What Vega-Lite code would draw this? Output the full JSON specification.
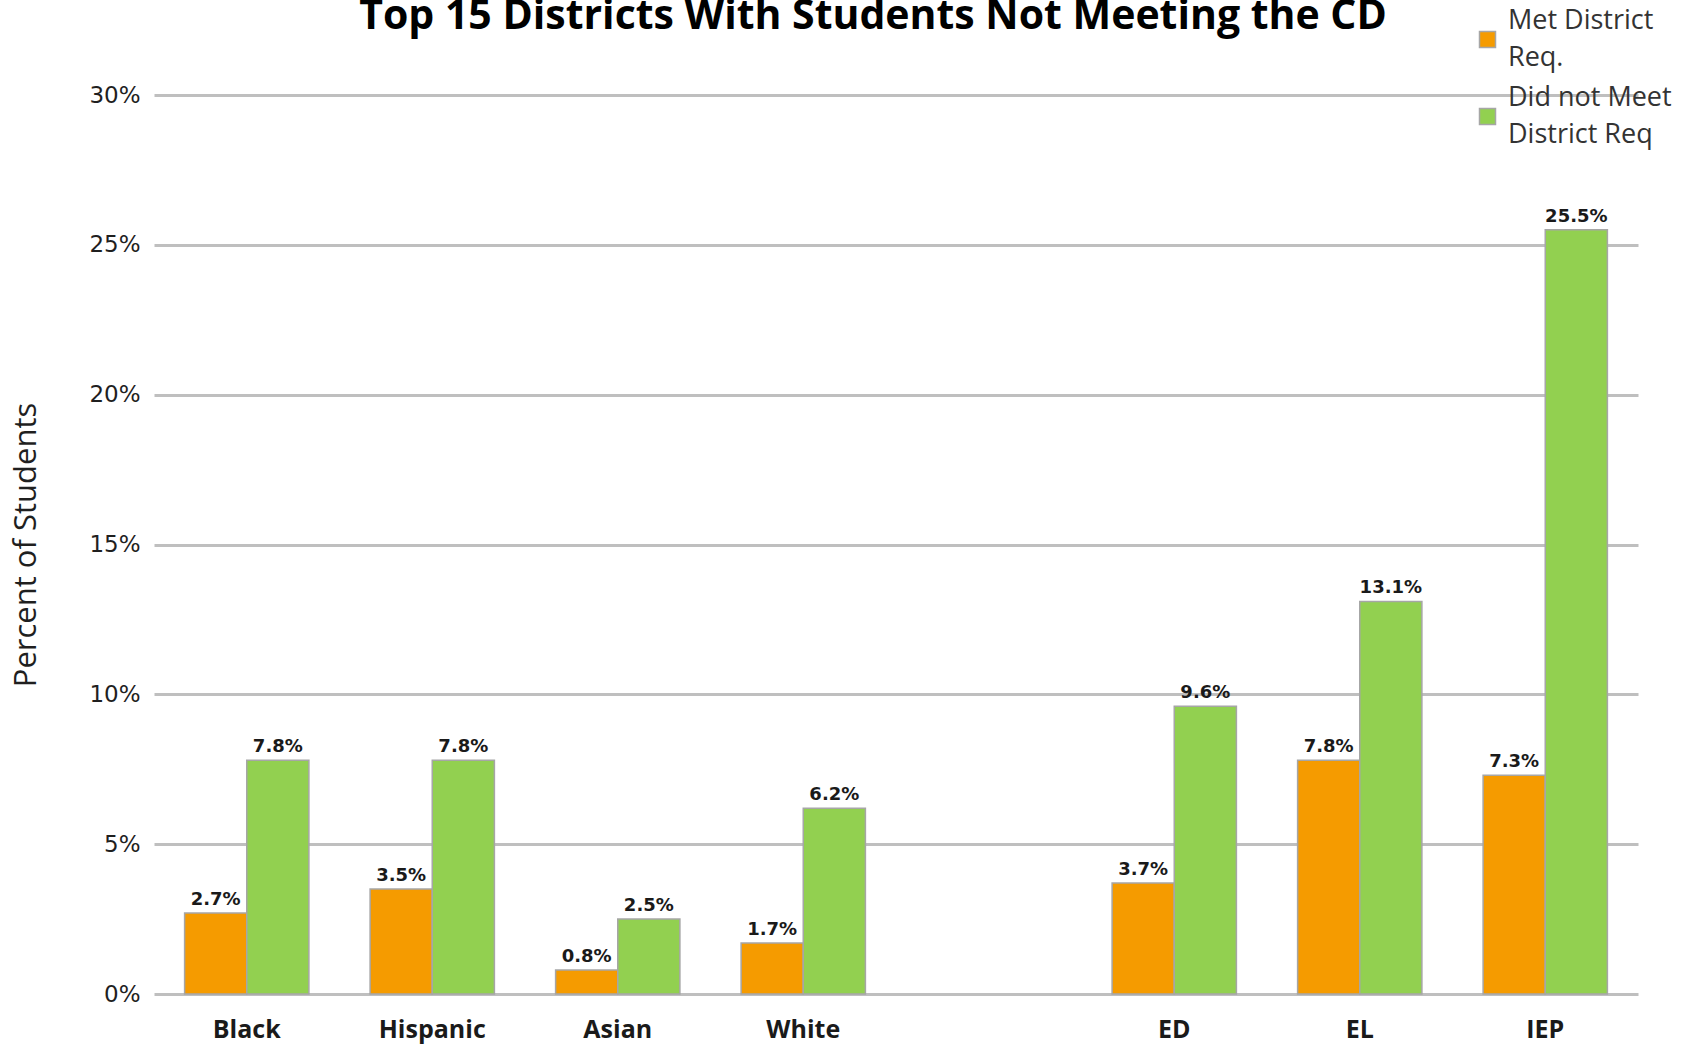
{
  "$schema": "https://vega.github.io/schema/vega-lite/v6.json",
  "width": 1484,
  "height": 899,
  "autosize": {"type": "none"},
  "padding": {"left": 154, "top": 95, "right": 52, "bottom": 51},
  "background": "white",
  "view": {"stroke": null},
  "config": {"style": {"guide-label": {"lineHeight": 37}}},
  "title": {
    "text": "Top 15 Districts With Students Not Meeting the CD",
    "font": "Open Sans",
    "fontSize": 41,
    "fontWeight": "bold",
    "color": "#000000",
    "anchor": "middle",
    "frame": "group",
    "dx": -23,
    "baseline": "alphabetic",
    "offset": -44
  },
  "data": {
    "values": [
      {"group": "Black", "status": "Met District Req.", "pct": 0.027},
      {"group": "Black", "status": "Did not Meet District Req", "pct": 0.078},
      {"group": "Hispanic", "status": "Met District Req.", "pct": 0.035},
      {"group": "Hispanic", "status": "Did not Meet District Req", "pct": 0.078},
      {"group": "Asian", "status": "Met District Req.", "pct": 0.008},
      {"group": "Asian", "status": "Did not Meet District Req", "pct": 0.025},
      {"group": "White", "status": "Met District Req.", "pct": 0.017},
      {"group": "White", "status": "Did not Meet District Req", "pct": 0.062},
      {"group": "ED", "status": "Met District Req.", "pct": 0.037},
      {"group": "ED", "status": "Did not Meet District Req", "pct": 0.096},
      {"group": "EL", "status": "Met District Req.", "pct": 0.078},
      {"group": "EL", "status": "Did not Meet District Req", "pct": 0.131},
      {"group": "IEP", "status": "Met District Req.", "pct": 0.073},
      {"group": "IEP", "status": "Did not Meet District Req", "pct": 0.255}
    ]
  },
  "encoding": {
    "x": {
      "field": "group",
      "type": "nominal",
      "sort": null,
      "scale": {
        "domain": ["Black", "Hispanic", "Asian", "White", " ", "ED", "EL", "IEP"],
        "paddingInner": 0.33,
        "paddingOuter": 0.165
      },
      "axis": {
        "title": null,
        "domain": false,
        "ticks": false,
        "labelAngle": 0,
        "labelFont": "Open Sans",
        "labelFontSize": 25,
        "labelFontWeight": "bold",
        "labelColor": "#1a1a1a",
        "labelPadding": 23
      }
    },
    "y": {
      "field": "pct",
      "type": "quantitative",
      "scale": {"domain": [0, 0.3]},
      "axis": {
        "values": [0, 0.05, 0.1, 0.15, 0.2, 0.25, 0.3],
        "format": ".0%",
        "domain": false,
        "ticks": false,
        "grid": true,
        "gridColor": "#BFBFBF",
        "gridWidth": 3,
        "labelFont": "DejaVu Sans",
        "labelFontSize": 23,
        "labelColor": "#1f1f1f",
        "labelPadding": 14,
        "title": "Percent of Students",
        "titleFont": "Open Sans",
        "titleFontSize": 31,
        "titleFontWeight": "normal",
        "titleColor": "#1f1f1f",
        "titlePadding": 46
      }
    },
    "xOffset": {
      "field": "status",
      "type": "nominal",
      "scale": {"domain": ["Met District Req.", "Did not Meet District Req"]}
    }
  },
  "layer": [
    {
      "mark": {"type": "bar", "stroke": "#A6A6A6", "strokeWidth": 1.5},
      "encoding": {
        "color": {
          "field": "status",
          "type": "nominal",
          "scale": {
            "domain": ["Met District Req.", "Did not Meet District Req"],
            "range": ["#F59B00", "#92D050"]
          },
          "legend": {
            "title": null,
            "orient": "none",
            "legendX": 1320,
            "legendY": -69,
            "padding": 0,
            "symbolType": "square",
            "symbolSize": 256,
            "labelFont": "Open Sans",
            "labelFontSize": 27,
            "labelColor": "#333333",
            "labelOffset": 7,
            "labelLimit": 300,
            "labelBaseline": "line-bottom",
            "rowPadding": 12,
            "labelExpr": "datum.label == 'Met District Req.' ? ['Met District', 'Req.'] : ['Did not Meet', 'District Req']"
          }
        }
      }
    },
    {
      "mark": {
        "type": "text",
        "baseline": "bottom",
        "dy": -4,
        "font": "DejaVu Sans",
        "fontSize": 18,
        "fontWeight": "bold",
        "color": "#1a1a1a"
      },
      "encoding": {
        "text": {"field": "pct", "type": "quantitative", "format": ".1%"}
      }
    }
  ]
}
